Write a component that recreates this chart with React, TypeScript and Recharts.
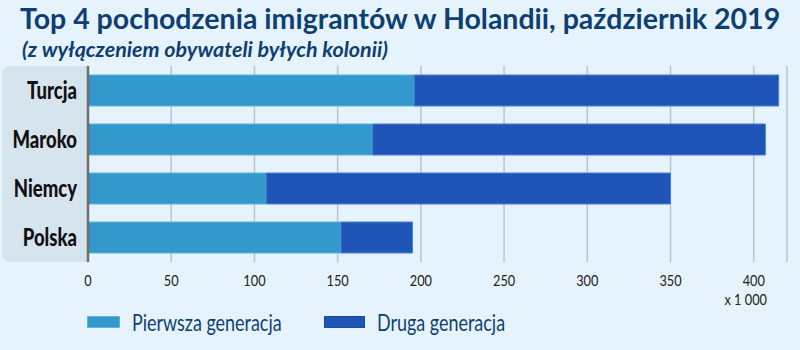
import { BarChart, Bar, XAxis, YAxis, CartesianGrid } from "recharts";

const countries = ["Turcja", "Maroko", "Niemcy", "Polska"];
const firstGen = [196, 171, 107, 152];
const secondGen = [219, 236, 243, 43];
const xTicks = [0, 50, 100, 150, 200, 250, 300, 350, 400];

const data = countries.map((name, i) => ({ name, first: firstGen[i], second: secondGen[i] }));

const BG = "#E6F3FC";
const NAVY = "#0E3F73";
const LIGHT = "#3399CC";
const DARK = "#1F55B6";
const FONT = "Lato, sans-serif";

// condensed look: no narrow font installed, so squeeze horizontally
const CountryTick = ({ x, y, payload }: any) => (
  <text transform={`translate(${x},${y}) scale(0.77,1)`} textAnchor="end" dy="0.36em"
        fontFamily={FONT} fontWeight={900} fontSize={24} fill="#111">
    {payload.value}
  </text>
);

const NumTick = ({ x, y, payload }: any) => (
  <text transform={`translate(${x},${y}) scale(0.85,1)`} textAnchor="middle" dy="0.9em"
        fontFamily={FONT} fontSize={15} fill="#222">
    {payload.value}
  </text>
);

function LegendBox() {
  const items = [
    { label: "Pierwsza generacja", color: LIGHT, border: "#5CB3DE" },
    { label: "Druga generacja", color: DARK, border: "#164A9E" },
  ];
  return (
    <div style={{ position: "absolute", left: 87, top: 308, display: "flex", alignItems: "center" }}>
      {items.map((it, i) => (
        <div key={it.label} style={{ display: "flex", alignItems: "center", width: i === 0 ? 237 : 220 }}>
          <div style={{ width: 39, height: 10, background: it.color, border: `1px solid ${it.border}`, marginRight: 12 }} />
          <span style={{ fontFamily: FONT, fontSize: 23, color: NAVY, display: "inline-block",
                         transform: "scaleX(0.78)", transformOrigin: "left center", whiteSpace: "nowrap" }}>
            {it.label}
          </span>
        </div>
      ))}
    </div>
  );
}

export default function App() {
  return (
    <div style={{ position: "absolute", left: 0, top: 0, width: 800, height: 350, background: BG, overflow: "hidden" }}>
      <div style={{ position: "absolute", left: 20, top: 1, fontFamily: FONT, fontWeight: 700, fontSize: 28.5, color: NAVY, whiteSpace: "nowrap" }}>
        Top 4 pochodzenia imigrantów w Holandii, październik 2019
      </div>
      <div style={{ position: "absolute", left: 22, top: 36, fontFamily: FONT, fontStyle: "italic", fontWeight: 700, fontSize: 21.5, color: NAVY, whiteSpace: "nowrap" }}>
        (z wyłączeniem obywateli byłych kolonii)
      </div>
      <div style={{ position: "absolute", left: 2, top: 66, width: 86, height: 196, background: "#D6E4EE", borderRadius: "8px 0 0 8px" }} />
      <div style={{ position: "absolute", left: 0, top: 0 }}>
        <BarChart width={800} height={350} data={data} layout="vertical" barSize={31}
                  margin={{ top: 66, right: 13, left: 0, bottom: 8 }}>
          <CartesianGrid stroke="#B8C4CE" strokeWidth={1.5} horizontal={false} />
          <XAxis type="number" domain={[0, 420]} ticks={xTicks} tickLine={false} axisLine={false}
                 height={80} tickMargin={4} tick={<NumTick />} />
          <YAxis type="category" dataKey="name" width={88} tickLine={false} tickMargin={5}
                 axisLine={{ stroke: "#6E6E6E", strokeWidth: 2.5 }} tick={<CountryTick />} />
          <Bar dataKey="first" stackId="a" fill={LIGHT} stroke="#5CB3DE" strokeWidth={1} isAnimationActive={false} />
          <Bar dataKey="second" stackId="a" fill={DARK} stroke="#4A7FD3" strokeWidth={1} isAnimationActive={false} />
        </BarChart>
      </div>
      <div style={{ position: "absolute", right: 33, top: 290, fontFamily: FONT, fontSize: 15, color: "#222",
                    transform: "scaleX(0.85)", transformOrigin: "right center" }}>
        x 1 000
      </div>
      <LegendBox />
    </div>
  );
}
